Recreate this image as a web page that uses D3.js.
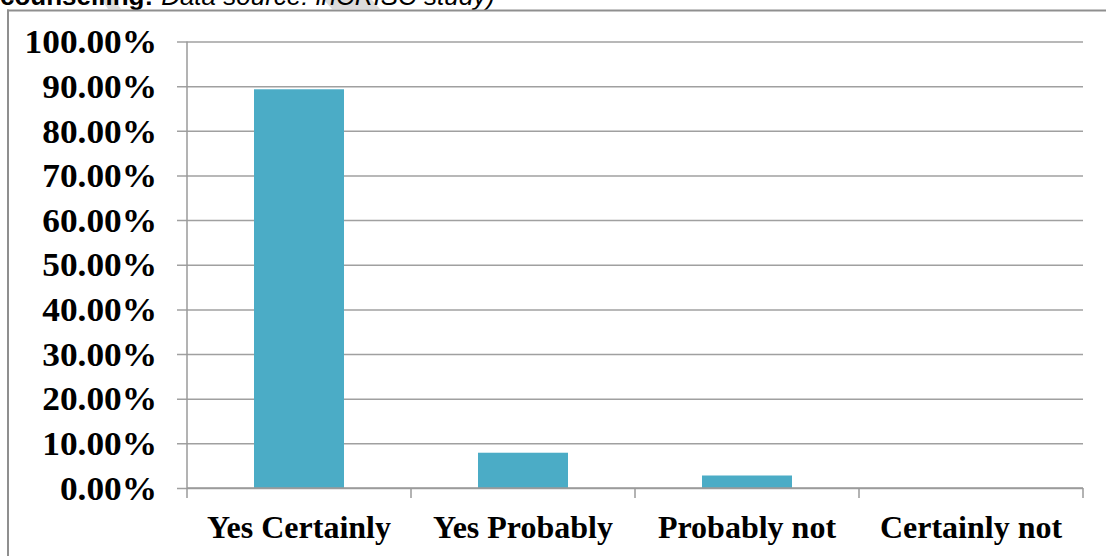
<!DOCTYPE html>
<html>
<head>
<meta charset="utf-8">
<script src="https://cdn.jsdelivr.net/npm/d3@7/dist/d3.min.js"></script>
<style>
  html, body { margin: 0; padding: 0; background: #ffffff; }
  svg { display: block; }
</style>
</head>
<body>
<svg id="chart" width="1106" height="556"></svg>
<script>
const categories = ["Yes Certainly", "Yes Probably", "Probably not", "Certainly not"];
const values = [0.893, 0.079, 0.028, 0.0];
const yTicks = [0, 0.1, 0.2, 0.3, 0.4, 0.5, 0.6, 0.7, 0.8, 0.9, 1.0];
const titleBold = "counselling:";
const titleItalic = "Data source: inCRISC study)";

const svg = d3.select("#chart");
const W = 1106, H = 556;
const m = { left: 187, right: 23, top: 41.5, bottom: 68 };

const x = d3.scaleBand().domain(categories).range([m.left, W - m.right]).paddingInner(0).paddingOuter(0);
const y = d3.scaleLinear().domain([0, 1]).range([H - m.bottom, m.top]);

// caption fragment at top (cut off)
svg.append("polygon").attr("points", "102,0 115,0 121,9 108,9").attr("fill", "#dcdcdc");
svg.append("polygon").attr("points", "324,0 372,0 380,9 332,9").attr("fill", "#dcdcdc");
const cap = svg.append("text").attr("x", 0).attr("y", 5)
  .attr("font-family", "'Liberation Sans', Arial, sans-serif").attr("font-size", 26).attr("fill", "#000");
cap.append("tspan").attr("font-weight", "bold").text(titleBold);
cap.append("tspan").attr("font-style", "italic").attr("dx", 8).text(titleItalic);

// outer frame
svg.append("line").attr("x1", 7).attr("x2", W).attr("y1", 10.5).attr("y2", 10.5)
  .attr("stroke", "#8f8f8f").attr("stroke-width", 2);
svg.append("line").attr("x1", 8).attr("x2", 8).attr("y1", 9.5).attr("y2", H)
  .attr("stroke", "#8f8f8f").attr("stroke-width", 2);

// gridlines + y labels
const yAxis = d3.axisLeft(y).tickValues(yTicks).tickSize(-(W - m.right - m.left))
  .tickFormat(d => d3.format(".2%")(d)).tickPadding(30);
const gy = svg.append("g").attr("transform", `translate(${m.left},0)`).call(yAxis);
gy.select(".domain").remove();
gy.selectAll(".tick line").attr("stroke", "#a0a0a0").attr("stroke-width", 1.5).attr("x1", -10);
gy.selectAll(".tick text")
  .attr("font-family", "'Liberation Serif', 'Times New Roman', serif")
  .attr("font-weight", "bold").attr("font-size", 33).attr("fill", "#000")
  .attr("dy", "0.34em")
  .each(function () {
    const len = this.getComputedTextLength();
    d3.select(this).attr("textLength", len * 1.07).attr("lengthAdjust", "spacingAndGlyphs");
  });

// bars
svg.append("g").selectAll("rect").data(categories).join("rect")
  .attr("x", (d) => x(d) + x.bandwidth() / 2 - 45)
  .attr("width", 90)
  .attr("y", (d, i) => y(values[i]))
  .attr("height", (d, i) => y(0) - y(values[i]))
  .attr("fill", "#4bacc6");

// x axis
const boundaries = categories.map(c => x(c)).concat([x.range()[1]]);
svg.append("line").attr("x1", m.left).attr("x2", W - m.right).attr("y1", y(0)).attr("y2", y(0))
  .attr("stroke", "#9a9a9a").attr("stroke-width", 1.5);
svg.append("line").attr("x1", m.left).attr("x2", m.left).attr("y1", y(1)).attr("y2", y(0))
  .attr("stroke", "#9a9a9a").attr("stroke-width", 1.5);
svg.append("g").selectAll("line").data(boundaries).join("line")
  .attr("x1", d => d).attr("x2", d => d).attr("y1", y(0)).attr("y2", y(0) + 10)
  .attr("stroke", "#9a9a9a").attr("stroke-width", 1.5);

svg.append("g").selectAll("text").data(categories).join("text")
  .attr("x", d => x(d) + x.bandwidth() / 2)
  .attr("y", 538)
  .attr("text-anchor", "middle")
  .attr("font-family", "'Liberation Serif', 'Times New Roman', serif")
  .attr("font-weight", "bold").attr("font-size", 32).attr("fill", "#000")
  .text(d => d);
</script>
</body>
</html>
